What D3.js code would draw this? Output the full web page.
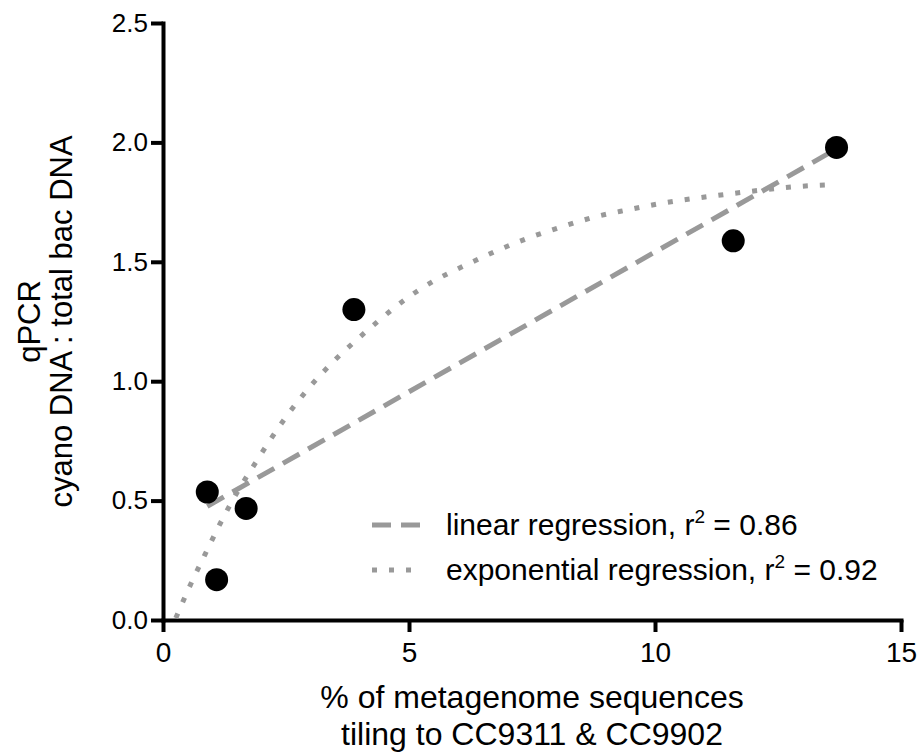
<!DOCTYPE html>
<html>
<head>
<meta charset="utf-8">
<script src="https://cdn.jsdelivr.net/npm/d3@7"></script>
<style>
  body { margin: 0; background: #fff; }
  svg { display: block; font-family: 'Liberation Sans', Arial, Helvetica, sans-serif; }
</style>
</head>
<body>
<div id="chart"></div>
<script>
// measured points (qPCR ratio vs % tiling)
var pointX = [0.90, 1.09, 1.69, 3.88, 11.59, 13.69];
var pointY = [0.536, 0.169, 0.467, 1.30, 1.588, 1.979];

// fitted lines
var linearX = [0.9, 13.7];
var linearY = [0.476, 1.974];
var expX = [0.26, 0.55, 0.85, 1.16, 1.50, 1.87, 2.5, 3.0, 3.5, 4.0, 4.41, 4.92, 5.49, 6.14, 6.78, 7.43, 8.10, 8.78, 9.46, 10.16, 10.85, 11.54, 12.24, 12.95, 13.66];
var expY = [0.008, 0.144, 0.273, 0.403, 0.532, 0.655, 0.85, 0.98, 1.09, 1.185, 1.258, 1.342, 1.418, 1.485, 1.546, 1.600, 1.646, 1.688, 1.718, 1.746, 1.767, 1.785, 1.802, 1.816, 1.823];

var xTicks = [0, 5, 10, 15];
var yTicks = [0, 0.5, 1.0, 1.5, 2.0, 2.5];
var legendLabels = ['linear regression, r', 'exponential regression, r'];
var legendR2 = ['0.86', '0.92'];

var WIDTH = 920, HEIGHT = 755;
var margin = { top: 23, right: 19, bottom: 135, left: 163 };
var width = WIDTH - margin.left - margin.right;
var height = HEIGHT - margin.top - margin.bottom;
var GREY = '#999999';

var svg = d3.select('#chart').append('svg')
  .attr('width', WIDTH)
  .attr('height', HEIGHT);
svg.append('rect').attr('width', WIDTH).attr('height', HEIGHT).attr('fill', '#fff');

var g = svg.append('g').attr('transform', 'translate(' + margin.left + ',' + margin.top + ')');

var x = d3.scaleLinear().domain([0, 15]).range([0, width]);
var y = d3.scaleLinear().domain([0, 2.5]).range([height, 0]);

// axes
var xAxis = g.append('g').attr('transform', 'translate(0,' + height + ')')
  .call(d3.axisBottom(x).tickValues(xTicks).tickSize(12).tickSizeOuter(0).tickPadding(10));
var yAxis = g.append('g')
  .call(d3.axisLeft(y).tickValues(yTicks).tickSize(12).tickSizeOuter(0).tickPadding(3).tickFormat(d3.format('.1f')));

[xAxis, yAxis].forEach(function (a) {
  a.select('.domain').attr('stroke', '#000').attr('stroke-width', 4).attr('stroke-linecap', 'square');
  a.selectAll('.tick line').attr('stroke', '#000').attr('stroke-width', 4);
  a.selectAll('.tick text').attr('fill', '#000').attr('font-family', null);
});
xAxis.selectAll('.tick text').attr('font-size', 28);
yAxis.selectAll('.tick text').attr('font-size', 26);

// regression lines
var line = d3.line()
  .x(function (d) { return x(d[0]); })
  .y(function (d) { return y(d[1]); });

g.append('path')
  .datum(d3.zip(expX, expY))
  .attr('fill', 'none')
  .attr('stroke', GREY)
  .attr('stroke-width', 5)
  .attr('stroke-dasharray', '5,12')
  .attr('d', line.curve(d3.curveMonotoneX));

g.append('path')
  .datum(d3.zip(linearX, linearY))
  .attr('fill', 'none')
  .attr('stroke', GREY)
  .attr('stroke-width', 5)
  .attr('stroke-dasharray', '19,10')
  .attr('d', line.curve(d3.curveLinear));

// data points
g.selectAll('.pt')
  .data(d3.zip(pointX, pointY))
  .enter().append('circle')
  .attr('class', 'pt')
  .attr('cx', function (d) { return x(d[0]); })
  .attr('cy', function (d) { return y(d[1]); })
  .attr('r', 11.5)
  .attr('fill', '#000');

// legend
var legend = svg.append('g').attr('transform', 'translate(372,525)');
var dashes = ['19,10', '5,12'];
legendLabels.forEach(function (lbl, i) {
  var row = legend.append('g').attr('transform', 'translate(0,' + (i * 45) + ')');
  row.append('line')
    .attr('x1', 0).attr('x2', 50)
    .attr('stroke', GREY).attr('stroke-width', 5)
    .attr('stroke-dasharray', dashes[i]);
  var t = row.append('text')
    .attr('x', 74).attr('y', 10)
    .attr('font-size', 30)
    .attr('fill', '#000')
    .text(lbl);
  t.append('tspan').attr('font-size', 19).attr('dy', -12).text('2');
  t.append('tspan').attr('dy', 12).text(' = ' + legendR2[i]);
});

// axis titles
var xTitle = svg.append('text')
  .attr('text-anchor', 'middle')
  .attr('font-size', 32)
  .attr('fill', '#000');
xTitle.append('tspan').attr('x', margin.left + width / 2).attr('y', 708).text('% of metagenome sequences');
xTitle.append('tspan').attr('x', margin.left + width / 2).attr('y', 745).text('tiling to CC9311 & CC9902');

var yTitle = svg.append('text')
  .attr('text-anchor', 'middle')
  .attr('font-size', 31)
  .attr('fill', '#000')
  .attr('transform', 'translate(0,' + (margin.top + height / 2) + ') rotate(-90)');
yTitle.append('tspan').attr('x', 0).attr('y', 40).text('qPCR');
yTitle.append('tspan').attr('x', 0).attr('y', 72).text('cyano DNA : total bac DNA');
</script>
</body>
</html>
